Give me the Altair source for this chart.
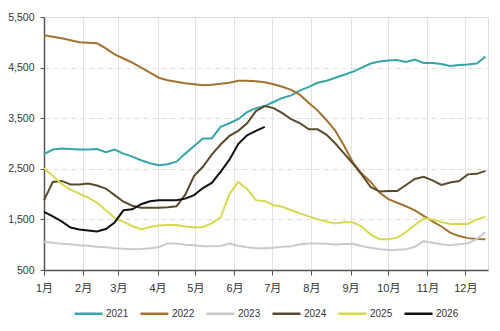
import datetime as dt

import altair as alt
import pandas as pd

# Weekly readings, one value per week starting 1 January
years = ["2021", "2022", "2023", "2024", "2025", "2026"]
colors = ["#35a5a9", "#a2722f", "#cacaca", "#5a4a2b", "#d8d850", "#111111"]

s2021 = [2790, 2880, 2900, 2890, 2880, 2880, 2890, 2830, 2880, 2800,
         2740, 2670, 2610, 2570, 2590, 2640, 2800, 2950, 3100, 3100,
         3330, 3400, 3480, 3620, 3700, 3740, 3820, 3900, 3950, 4050,
         4120, 4200, 4240, 4300, 4360, 4420, 4500, 4580, 4620, 4640,
         4650, 4610, 4660, 4590, 4590, 4570, 4530, 4550, 4560, 4580,
         4720]
s2022 = [5140, 5110, 5080, 5040, 5000, 4990, 4980, 4880, 4760, 4680,
         4600, 4500, 4400, 4300, 4250, 4220, 4190, 4170, 4150, 4160,
         4180, 4200, 4240, 4240, 4230, 4210, 4170, 4120, 4060, 3960,
         3800, 3650, 3460, 3250, 2950, 2620, 2400, 2240, 2030, 1900,
         1830, 1760, 1680, 1570, 1460, 1360, 1240, 1170, 1130, 1115,
         1110]
s2023 = [1060, 1040, 1020, 1010, 990, 980, 960, 950, 930, 920,
         910, 915, 930, 950, 1025, 1025, 1000, 990, 970, 970,
         975, 1025, 980, 950, 930, 930, 940, 960, 970, 1010,
         1025, 1025, 1020, 1005, 1015, 1020, 970, 940, 910, 895,
         900, 910, 960, 1070, 1040, 1010, 990, 1010, 1030, 1110,
         1250]
s2024 = [1880, 2240, 2260, 2190, 2190, 2210, 2170, 2110, 1980, 1850,
         1770, 1730, 1730, 1730, 1740, 1760, 1990, 2360, 2540, 2780,
         2980, 3150, 3250, 3400, 3640, 3740, 3700, 3600, 3480, 3400,
         3280, 3280, 3170, 3000, 2800, 2600, 2380, 2140, 2050, 2060,
         2060, 2180, 2300, 2340, 2270, 2180, 2230, 2260, 2390, 2400,
         2460]
s2025 = [2510, 2360, 2200, 2090, 2010, 1930, 1830, 1680, 1530, 1450,
         1370, 1300, 1350, 1380, 1390, 1390, 1360, 1340, 1350, 1420,
         1540, 2000, 2240, 2100, 1880, 1860, 1780, 1750, 1680, 1620,
         1560, 1500, 1460, 1420, 1450, 1440, 1360, 1200, 1110, 1110,
         1140, 1250, 1390, 1520, 1500, 1450, 1410, 1410, 1410, 1500,
         1550]
s2026 = [1650, 1560, 1460, 1340, 1300, 1280, 1260, 1310, 1440, 1680,
         1700, 1800, 1860, 1880, 1880, 1880, 1910, 1980, 2120, 2220,
         2440, 2680, 2990, 3160, 3250, 3330]

series = [s2021, s2022, s2023, s2024, s2025, s2026]

start = dt.date(2021, 1, 1)
rows = []
for year, values in zip(years, series):
    for i, v in enumerate(values):
        d = start + dt.timedelta(days=7 * i)
        rows.append({"date": d.isoformat(), "year": year, "value": v})
df = pd.DataFrame(rows)

font = "Liberation Sans, 'Noto Sans CJK SC', sans-serif"

month_ticks = [alt.DateTime(year=2021, month=m, date=1, utc=True) for m in range(1, 13)]

chart = (
    alt.Chart(df)
    .mark_line(strokeWidth=2)
    .encode(
        x=alt.X(
            "date:T",
            title=None,
            scale=alt.Scale(
                type="utc",
                domain=[
                    alt.DateTime(year=2021, month=1, date=1, utc=True),
                    alt.DateTime(year=2021, month=12, date=19, utc=True),
                ],
            ),
            axis=alt.Axis(
                values=month_ticks,
                labelExpr="(utcmonth(datum.value) + 1) + '月'",
                labelOverlap=False,
                labelAlign="center",
                labelFlush=False,
                labelBound=False,
                grid=True,
                gridColor="#e2e2e2",
                gridWidth=1,
                domainColor="#555555",
                domainWidth=1.5,
                tickColor="#555555",
                tickSize=5,
                labelPadding=7,
                labelFontSize=11,
                labelColor="#333333",
                labelFont=font,
            ),
        ),
        y=alt.Y(
            "value:Q",
            title=None,
            scale=alt.Scale(domain=[500, 5500], nice=False, zero=False),
            axis=alt.Axis(
                values=[500, 1500, 2500, 3500, 4500, 5500],
                format=",.0f",
                grid=True,
                gridColor="#dddddd",
                gridDash=[5, 4],
                gridWidth=1,
                domainColor="#555555",
                domainWidth=1.5,
                tickColor="#555555",
                tickSize=4,
                labelPadding=6,
                labelFontSize=10.5,
                labelColor="#333333",
                labelFont=font,
            ),
        ),
        color=alt.Color(
            "year:N",
            scale=alt.Scale(domain=years, range=colors),
            legend=alt.Legend(
                title=None,
                orient="none",
                direction="horizontal",
                legendX=29,
                legendY=281,
                symbolType="stroke",
                symbolSize=784,
                symbolStrokeWidth=2.5,
                labelOffset=2,
                columnPadding=6,
                labelFontSize=10,
                labelColor="#333333",
                labelFont=font,
            ),
        ),
    )
    .properties(
        width=444,
        height=253,
        autosize=alt.AutoSizeParams(type="none"),
        padding={"left": 44, "top": 17, "right": 12, "bottom": 61},
    )
    .configure_view(stroke=None)
    .configure(background="white")
)

chart.save("out.html", embed_options={"renderer": "svg", "actions": False})
